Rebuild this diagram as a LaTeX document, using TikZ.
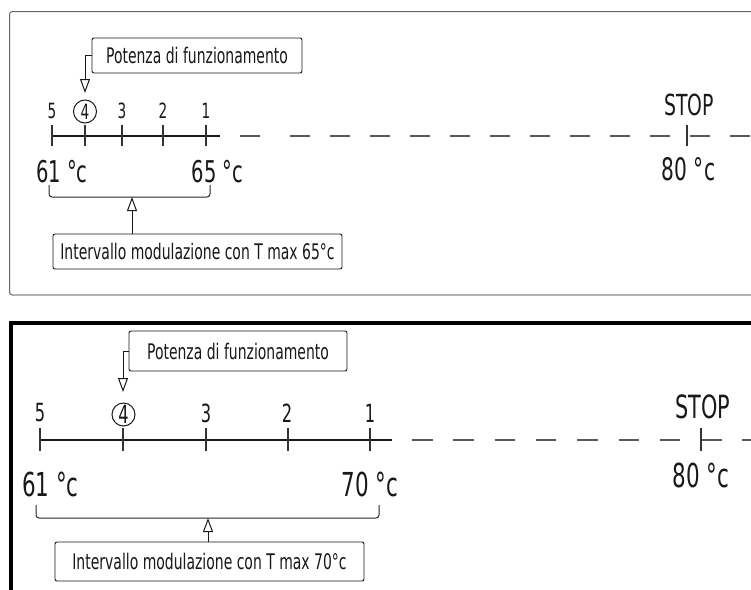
\documentclass[tikz,border=0pt]{standalone}
\usepackage{fontspec}
\setmainfont{DejaVu Sans}[FakeStretch=0.65]
\usetikzlibrary{arrows.meta}
\begin{document}
\begin{tikzpicture}[x=1pt,y=-1pt,
  lbl/.style={inner sep=0pt, anchor=center, text=black!90},
  callout/.style={draw=black!90, line width=0.9pt, rounded corners=2pt, inner sep=0pt,
    font=\fontsize{21.5}{23}\selectfont, text=black!90},
  axisl/.style={line width=2pt, black!90},
  tickm/.style={line width=1.4pt, black!80},
  dashl/.style={line width=1.6pt, black!65},
  opentip/.style={-{Triangle[open, length=14pt, width=10pt]}, line width=1pt, black!90},
  brk/.style={line width=1pt, black!85, rounded corners=3pt},
  circ/.style={draw=black!90, circle, line width=1pt, minimum size=23pt, inner sep=0pt}]
\useasboundingbox (0,0) rectangle (751,589);
\clip (0,0) rectangle (751,589);
\fill[white] (0,0) rectangle (751,589);

% ================= TOP PANEL =================
\draw[black!60, line width=1pt, rounded corners=3pt] (780,11.5) -- (9.5,11.5) -- (9.5,295) -- (780,295);
\draw[black!30, line width=1.6pt] (14,295) -- (780,295);

% callout
\node[callout, minimum width=210pt, minimum height=35pt] (pa) at (197,55.5) {Potenza di funzionamento};
\coordinate (pat) at (85,93);
\draw[opentip] (pa.west) -| (pat);

% scale numbers
\begin{scope}[every node/.style={lbl, font=\fontsize{21}{23}\selectfont}]
\node (a5) at (52,111) {5};
\node[circ] (a4) at (85,111.5) {4};
\node (a3) at (122,111) {3};
\node (a2) at (163,111) {2};
\node (a1) at (206,111) {1};
\end{scope}

% axis
\coordinate (as) at (52,136);
\coordinate (ae) at (220,136);
\draw[axisl] (as) -- (ae);
\foreach \xx in {52,85,122,163,206}
  \draw[tickm] (\xx,125) -- (\xx,146);
% dashed continuation
\coordinate (ad0) at (240,136);
\coordinate (ad1) at (260,136);
\coordinate (ad2) at (290,136);
\coordinate (ad3) at (780,136);
\draw[dashl] (ad0) -- (ad1);
\draw[dashl, dash pattern=on 20pt off 20pt] (ad2) -- (ad3);
% stop
\draw[tickm] (687,125) -- (687,146);
\node[lbl, font=\fontsize{29}{31}\selectfont] (astop) at (689,105) {STOP};
\node[lbl, font=\fontsize{31}{33}\selectfont] (a80) at (688.5,169) {80 °c};

% temperature labels
\node[lbl, font=\fontsize{30}{32}\selectfont] (a61) at (62,172) {61 °c};
\node[lbl, font=\fontsize{30}{32}\selectfont] (a65) at (217.5,172) {65 °c};

% bracket
\draw[brk] (49,185) -- (49,197) -- (210,197) -- (210,185);
\coordinate (abt) at (132,197);

% interval box
\node[callout, minimum width=289pt, minimum height=35pt] (ia) at (197.5,251.5) {Intervallo modulazione con T max 65°c};
\draw[opentip] (abt |- ia.north) -- (abt);

% ================= BOTTOM PANEL =================
\draw[black, line width=3.5pt] (780,323) -- (10.75,323) -- (10.75,600);

\node[callout, minimum width=218pt, minimum height=40pt] (pb) at (238,351) {Potenza di funzionamento};
\coordinate (pbt) at (123,392);
\draw[opentip] (pb.west) -| (pbt);

\begin{scope}[every node/.style={lbl, font=\fontsize{25}{27}\selectfont}]
\node (b5) at (40,413) {5};
\node[circ] (b4) at (123.5,414.5) {4};
\node (b3) at (206,413) {3};
\node (b2) at (287,413) {2};
\node (b1) at (370,413) {1};
\end{scope}

\coordinate (bs) at (40,440);
\coordinate (be) at (392,440);
\draw[axisl] (bs) -- (be);
\foreach \xx in {40,123,206,288,370}
  \draw[tickm] (\xx,428) -- (\xx,451);
\coordinate (bd0) at (412,440);
\coordinate (bd1) at (780,440);
\draw[dashl, dash pattern=on 20.5pt off 20.8pt] (bd0) -- (bd1);
\draw[tickm] (701,428) -- (701,451);
\node[lbl, font=\fontsize{32}{34}\selectfont] (bstop) at (703,407) {STOP};
\node[lbl, font=\fontsize{33}{35}\selectfont] (b80) at (701,475) {80 °c};

\node[lbl, font=\fontsize{33}{35}\selectfont] (b61) at (50.5,484) {61 °c};
\node[lbl, font=\fontsize{33}{35}\selectfont] (b70) at (370,484) {70 °c};

\draw[brk] (36,505) -- (36,518) -- (379,518) -- (379,505);
\coordinate (bbt) at (208,518);

\node[callout, minimum width=309pt, minimum height=39pt] (ib) at (209.5,561.5) {Intervallo modulazione con T max 70°c};
\draw[opentip] (bbt |- ib.north) -- (bbt);
\end{tikzpicture}
\end{document}
